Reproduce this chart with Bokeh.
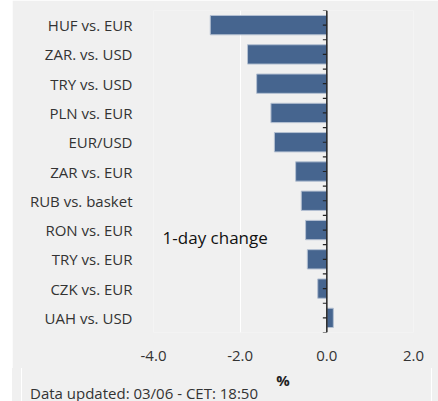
import numpy as np
from bokeh.plotting import figure
from bokeh.layouts import row, column
from bokeh.models import (Range1d, FixedTicker, Span, Label, BoxAnnotation, Spacer, Div)
from bokeh.embed import file_html
from bokeh.resources import INLINE

categories = ["HUF vs. EUR", "ZAR. vs. USD", "TRY vs. USD", "PLN vs. EUR", "EUR/USD",
              "ZAR vs. EUR", "RUB vs. basket", "RON vs. EUR", "TRY vs. EUR",
              "CZK vs. EUR", "UAH vs. USD"]
values = [-2.69, -1.83, -1.62, -1.29, -1.21, -0.72, -0.59, -0.49, -0.45, -0.21, 0.15]
x_ticks = [-4.0, -2.0, 0.0, 2.0]
x_tick_labels = ["-4.0", "-2.0", "0.0", "2.0"]
x_title = "%"
note = "Data updated: 03/06 - CET: 18:50"

FONT = "Open Sans"
BG = "#f0f0f0"
TXT = "#333333"
n = len(categories)
centers = list(np.arange(n) + 0.5)
bounds = list(np.arange(n + 1).astype(float))

p = figure(width=426, height=368, output_backend="svg", toolbar_location=None,
           x_range=Range1d(-4, 2), y_range=Range1d(n, 0),
           min_border_left=141, min_border_right=25, min_border_top=10,
           min_border_bottom=36, frame_width=260, frame_height=322)
p.background_fill_color = BG
p.border_fill_color = BG
p.outline_line_color = None

p.hbar(y=centers, left=0, right=values, height=0.66, fill_color="#46658f",
       line_color="#b4c0d2", line_width=1)

p.xgrid.ticker = FixedTicker(ticks=x_ticks)
p.xgrid.grid_line_color = "white"
p.xgrid.grid_line_width = 1
p.ygrid.grid_line_color = None

p.xaxis.ticker = FixedTicker(ticks=x_ticks)
p.xaxis.major_label_overrides = {t: l for t, l in zip(x_ticks, x_tick_labels)}
p.xaxis.axis_line_color = None
p.xaxis.major_tick_line_color = None
p.xaxis.minor_tick_line_color = None
p.xaxis.major_label_standoff = 12
p.xaxis.major_label_text_font = FONT
p.xaxis.major_label_text_font_size = "15px"
p.xaxis.major_label_text_color = TXT

p.yaxis.ticker = FixedTicker(ticks=centers)
p.yaxis.major_label_overrides = {c: l for c, l in zip(centers, categories)}
p.yaxis.axis_line_color = None
p.yaxis.major_tick_line_color = None
p.yaxis.minor_tick_line_color = None
p.yaxis.major_label_standoff = 15
p.yaxis.major_label_text_font = FONT
p.yaxis.major_label_text_font_size = "15px"
p.yaxis.major_label_text_color = TXT

# zero line with ticks
p.add_layout(Span(location=0, dimension="height", line_color="#222222", line_width=1.5))
p.ray(x=0, y=bounds + centers, length=4, length_units="screen", angle=np.pi,
      line_color="#222222", line_width=1.2)

p.add_layout(Label(x=-3.79, y=7.745, text="1-day change", text_baseline="middle",
                   text_font=FONT, text_font_size="17px", text_color="#111111"))

p.add_layout(BoxAnnotation(left=10, right=421, top=6, bottom=420,
                           left_units="canvas", right_units="canvas",
                           top_units="canvas", bottom_units="canvas",
                           fill_alpha=0, line_color="white", line_width=1.5))

html = (
    '<div style="position:relative;width:426px;height:33px;margin:0;padding:0;'
    f'background:{BG};font-family:\'Open Sans\',sans-serif;">'
    '<div style="position:absolute;left:9px;top:0;width:411px;height:33px;'
    'border-left:1.5px solid white;border-right:1.5px solid white;"></div>'
    '<span style="position:absolute;left:271px;top:12px;transform:translate(-50%,-50%);'
    'font-size:15px;line-height:15px;font-weight:bold;color:#222222;">'
    f'{x_title}</span>'
    '<span style="position:absolute;left:18px;top:25px;transform:translateY(-50%);'
    f'font-size:15px;line-height:15px;white-space:nowrap;color:{TXT};">{note}</span>'
    '</div>'
)
foot = Div(text=html, width=426, height=33, margin=(0, 0, 0, 0),
           styles={"background-color": BG})

layout = row(Spacer(width=12, height=401), column(p, foot, spacing=0), spacing=0)
open("out.html", "w").write(file_html(layout, INLINE))
